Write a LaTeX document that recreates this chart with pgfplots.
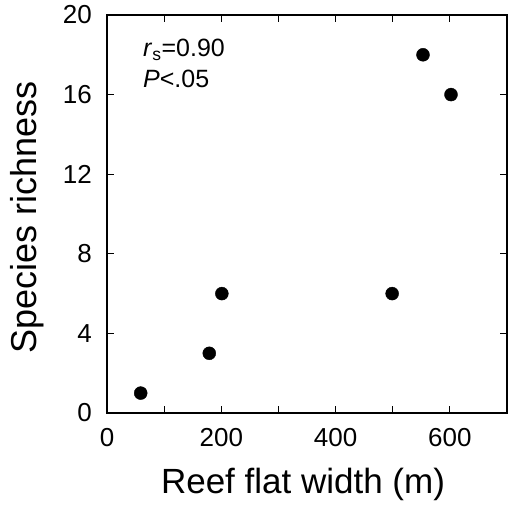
\documentclass[border=0pt]{standalone}
\usepackage{pgfplots}
\pgfplotsset{compat=1.18}
\usetikzlibrary{calc}
\usepackage{fontspec}
\setmainfont{Liberation Sans}
\begin{document}
\begin{tikzpicture}
  \begin{axis}[
    name=main,
    scale only axis,
    width=400pt, height=398pt,
    xmin=0, xmax=700, ymin=0, ymax=20,
    xtick={0,100,...,700},
    xticklabels={0,,200,,400,,600,},
    ytick={0,4,...,20},
    tick align=inside,
    major tick length=7pt,
    tick style={black, line width=1.2pt},
    axis line style={line width=1.3pt},
    /pgf/number format/assume math mode=true,
    tick label style={font=\fontsize{26}{26}\selectfont, inner sep=0pt},
    xticklabel style={anchor=north, yshift=-15pt},
    yticklabel style={anchor=east, xshift=-15pt},
    xlabel={Reef flat width (m)},
    ylabel={Species richness},
    xlabel style={font=\fontsize{35}{35}\selectfont, at={(axis description cs:0.49,0)},
      anchor=base, yshift=-80pt, inner sep=0pt},
    ylabel style={font=\fontsize{36}{36}\selectfont, at={(axis description cs:0,0.491)},
      anchor=base, yshift=70pt, inner sep=0pt},
    clip=false,
  ]
    \addplot[only marks, mark=*, mark size=6.5pt, mark options={fill=black, draw=black}]
      coordinates {
        (59,1) (179,3) (201,6) (499,6) (553,18) (602,16)
      };
    \node[anchor=base west, inner sep=0pt, font=\fontsize{25}{25}\selectfont]
      at (axis cs:63,17.89) {\textit{r}\textsubscript{s}=0.90};
    \node[anchor=base west, inner sep=0pt, font=\fontsize{25}{25}\selectfont]
      at (axis cs:63,16.38) {\textit{P}<.05};
  \end{axis}
  \path ($(main.south west)+(-107pt,-95pt)$) rectangle ($(main.north east)+(3pt,15pt)$);
\end{tikzpicture}
\end{document}
